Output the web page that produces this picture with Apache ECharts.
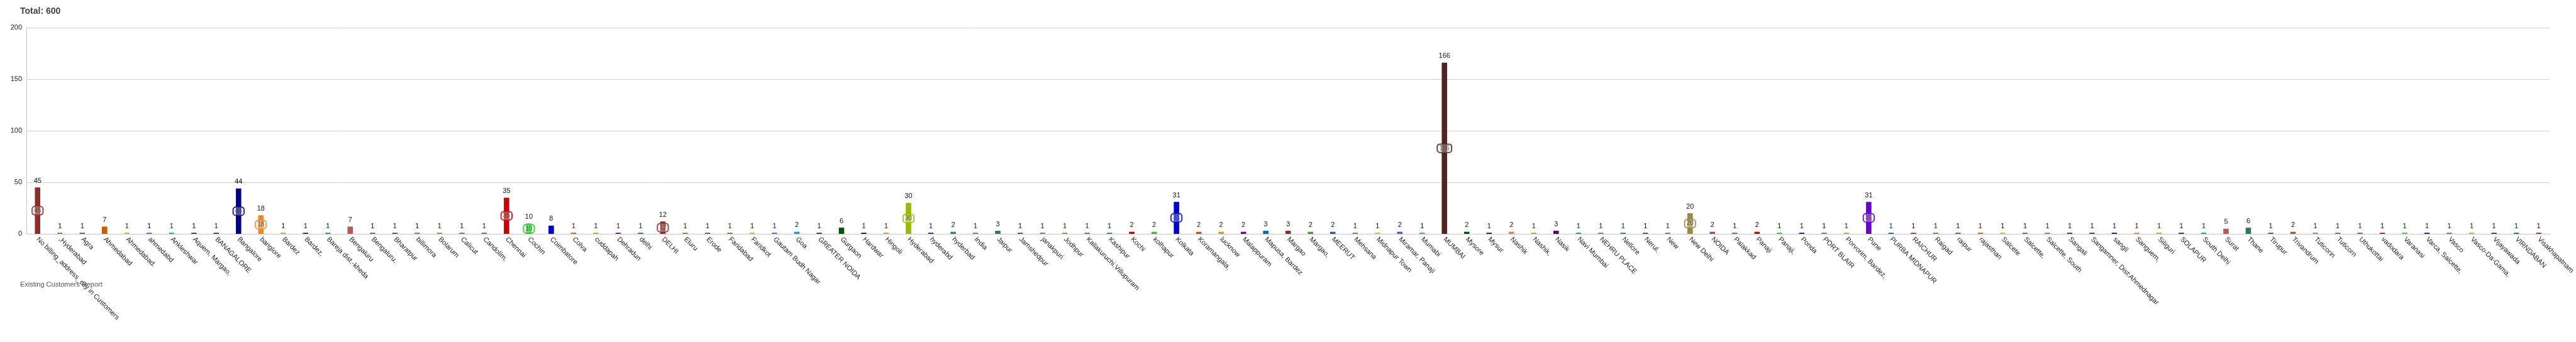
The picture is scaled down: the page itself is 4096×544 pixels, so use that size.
<!DOCTYPE html>
<html>
<head>
<meta charset="utf-8">
<script src="https://cdn.jsdelivr.net/npm/echarts@6/dist/echarts.min.js"></script>
<style>
html,body{margin:0;padding:0;background:#fff;overflow:hidden;}
#chart{width:4096px;height:544px;}
</style>
</head>
<body>
<div id="chart"></div>
<script>
const categories = [
  "No billing_address_city in Customers", ",Hyderabad", "Agra", "Ahmedabad", "Ahmedabad.", "ahmedabd", "Ankleshwar",
  "Aquem, Margao,", "BANAGALORE", "Bangalore", "banglore", "Bardez", "Bardez,", "Bareja dist.-kheda", "Bengaluru",
  "Bengaluru,", "Bharatpur", "billimora", "Bolarum", "Calicut", "Candolim,", "Chennai", "Cochin", "Coimbatore",
  "Colva", "cuddapah", "Dehradun", "delhi", "DELHI", "Eluru", "Erode", "Faridabad", "Faridkot", "Gautam Budh Nagar",
  "Goa", "GREATER NOIDA", "Gurgaon", "Hardwar", "Hingoli", "Hyderabad", "hyderabd", "hyderbad", "India", "Jaipur",
  "Jamshedpur", "janakpuri", "Jodhpur", "Kallakuruchi,Villupuram", "Kashipur", "Kochi", "kolhapur", "Kolkata",
  "Koramangala,", "lucknow", "Malappuram", "Mapusa, Bardez", "Margao", "Margao,", "MEERUT", "Mehsana",
  "Midnapur Town", "Miramar, Panaji", "Mumabi", "MUMBAI", "Mysore", "Mysur", "Nashik", "Nashik,", "Nasik",
  "Navi Mumbai", "NEHRU PLACE", "Nellore", "Nerul,", "New", "New Delhi", "NOIDA", "Palakkad", "Panaji", "Panaji,",
  "Ponda", "PORT BLAIR", "Porvorim, Bardez,", "Pune", "PURBA MIDNAPUR", "RAICHUR", "Raigad", "raipur", "rajasthan",
  "Salcete", "Salcette,", "Salcette, South", "Sangali", "Sangamner, Dist:Ahmednagar", "sangli", "Sanguem,",
  "Siliguri", "SOLAPUR", "South Delhi", "Surat", "Thane", "Tirupur", "Trivandrum", "Tuticorin", "Tuticorn",
  "Uthukottai", "vadodara", "Varanasi", "Varca, Salcette,", "Vasco", "Vasco-Da-Gama,", "Vijayawada", "VIRNDABAN",
  "Visakhapatnam"
];
const values = [
  45, 1, 1, 7, 1, 1, 1,
  1, 1, 44, 18, 1, 1, 1, 7,
  1, 1, 1, 1, 1, 1, 35, 10, 8,
  1, 1, 1, 1, 12, 1, 1, 1, 1, 1,
  2, 1, 6, 1, 1, 30, 1, 2, 1, 3,
  1, 1, 1, 1, 1, 2, 2, 31,
  2, 2, 2, 3, 3, 2, 2, 1,
  1, 2, 1, 166, 2, 1, 2, 1, 3,
  1, 1, 1, 1, 1, 20, 2, 1, 2, 1,
  1, 1, 1, 31, 1, 1, 1, 1, 1,
  1, 1, 1, 1, 1, 1, 1,
  1, 1, 1, 5, 6, 1, 2, 1, 1,
  1, 1, 1, 1, 1, 1, 1, 1,
  1
];
const palette = [
  "#8e2b2b", "#4b9a2f", "#2f5f8f", "#d05a00", "#e3b800", "#8a40d8", "#00a9bb",
  "#552222", "#005500", "#000088", "#e88a2a", "#99bb00", "#550066", "#009988",
  "#b55a5a", "#2e7a5a", "#4040a0", "#a0603a", "#9a8a40", "#a04a80", "#3a6a9a",
  "#cc0000", "#22cc22", "#0000cc", "#cc5500", "#ccaa00", "#6a00cc", "#0066cc"
];
const yMin = 0, yMax = 200, yInterval = 50;
const titleText = "Total: 600";
const footerText = "Existing Customers Report";
const innerLabelThreshold = 10;

const FONT = '"Liberation Sans", Arial, sans-serif';
const BAR_W = 8.5;
const chart = echarts.init(document.getElementById('chart'), null, {renderer: 'canvas'});

const mainData = values.map((v, i) => ({value: v, itemStyle: {color: palette[i % palette.length]}}));
const innerData = values.map((v, i) => v >= innerLabelThreshold
  ? {value: v, label: {show: true, borderColor: palette[i % palette.length]}}
  : {value: v, label: {show: false}});

chart.setOption({
  animation: false,
  backgroundColor: '#fff',
  title: [
    {text: titleText, left: 27, top: 6,
     textStyle: {fontFamily: FONT, fontSize: 14, fontWeight: 'bold', color: '#444'}},
    {text: footerText, left: 27, top: 442,
     textStyle: {fontFamily: FONT, fontSize: 11, fontWeight: 'normal', color: '#555'}}
  ],
  grid: {left: 42, right: 19, top: 44, bottom: 172, containLabel: false},
  xAxis: {
    type: 'category',
    data: categories,
    boundaryGap: true,
    axisLine: {show: true, lineStyle: {color: '#c8c8c8', width: 1}},
    axisTick: {show: false},
    axisLabel: {interval: 0, rotate: -45, margin: 7, color: '#222', fontFamily: FONT, fontSize: 11}
  },
  yAxis: {
    type: 'value',
    min: yMin, max: yMax, interval: yInterval,
    axisLine: {show: true, lineStyle: {color: '#c8c8c8', width: 1}},
    axisTick: {show: false},
    axisLabel: {color: '#222', fontFamily: FONT, fontSize: 11, margin: 7},
    splitLine: {show: true, lineStyle: {color: '#cfcfcf', width: 1}}
  },
  series: [
    {
      // light grey frame behind each bar
      type: 'bar',
      data: values,
      barWidth: BAR_W,
      barGap: '-100%',
      silent: true,
      itemStyle: {color: '#d4d4d4', borderColor: '#d4d4d4', borderWidth: 3},
      label: {show: false}
    },
    {
      type: 'bar',
      data: mainData,
      barWidth: BAR_W,
      barGap: '-100%',
      label: {show: true, position: 'top', distance: 5, color: '#111', fontFamily: FONT, fontSize: 11}
    },
    {
      type: 'bar',
      data: innerData,
      barWidth: BAR_W,
      barGap: '-100%',
      silent: true,
      itemStyle: {color: 'rgba(0,0,0,0)'},
      label: {
        show: true, position: 'inside', color: 'rgba(70,70,70,0.85)', fontFamily: FONT, fontSize: 10,
        backgroundColor: 'rgba(255,255,255,0.3)', borderWidth: 1, borderRadius: 4,
        padding: [2, 3, 1, 3]
      }
    }
  ]
});
</script>
</body>
</html>
